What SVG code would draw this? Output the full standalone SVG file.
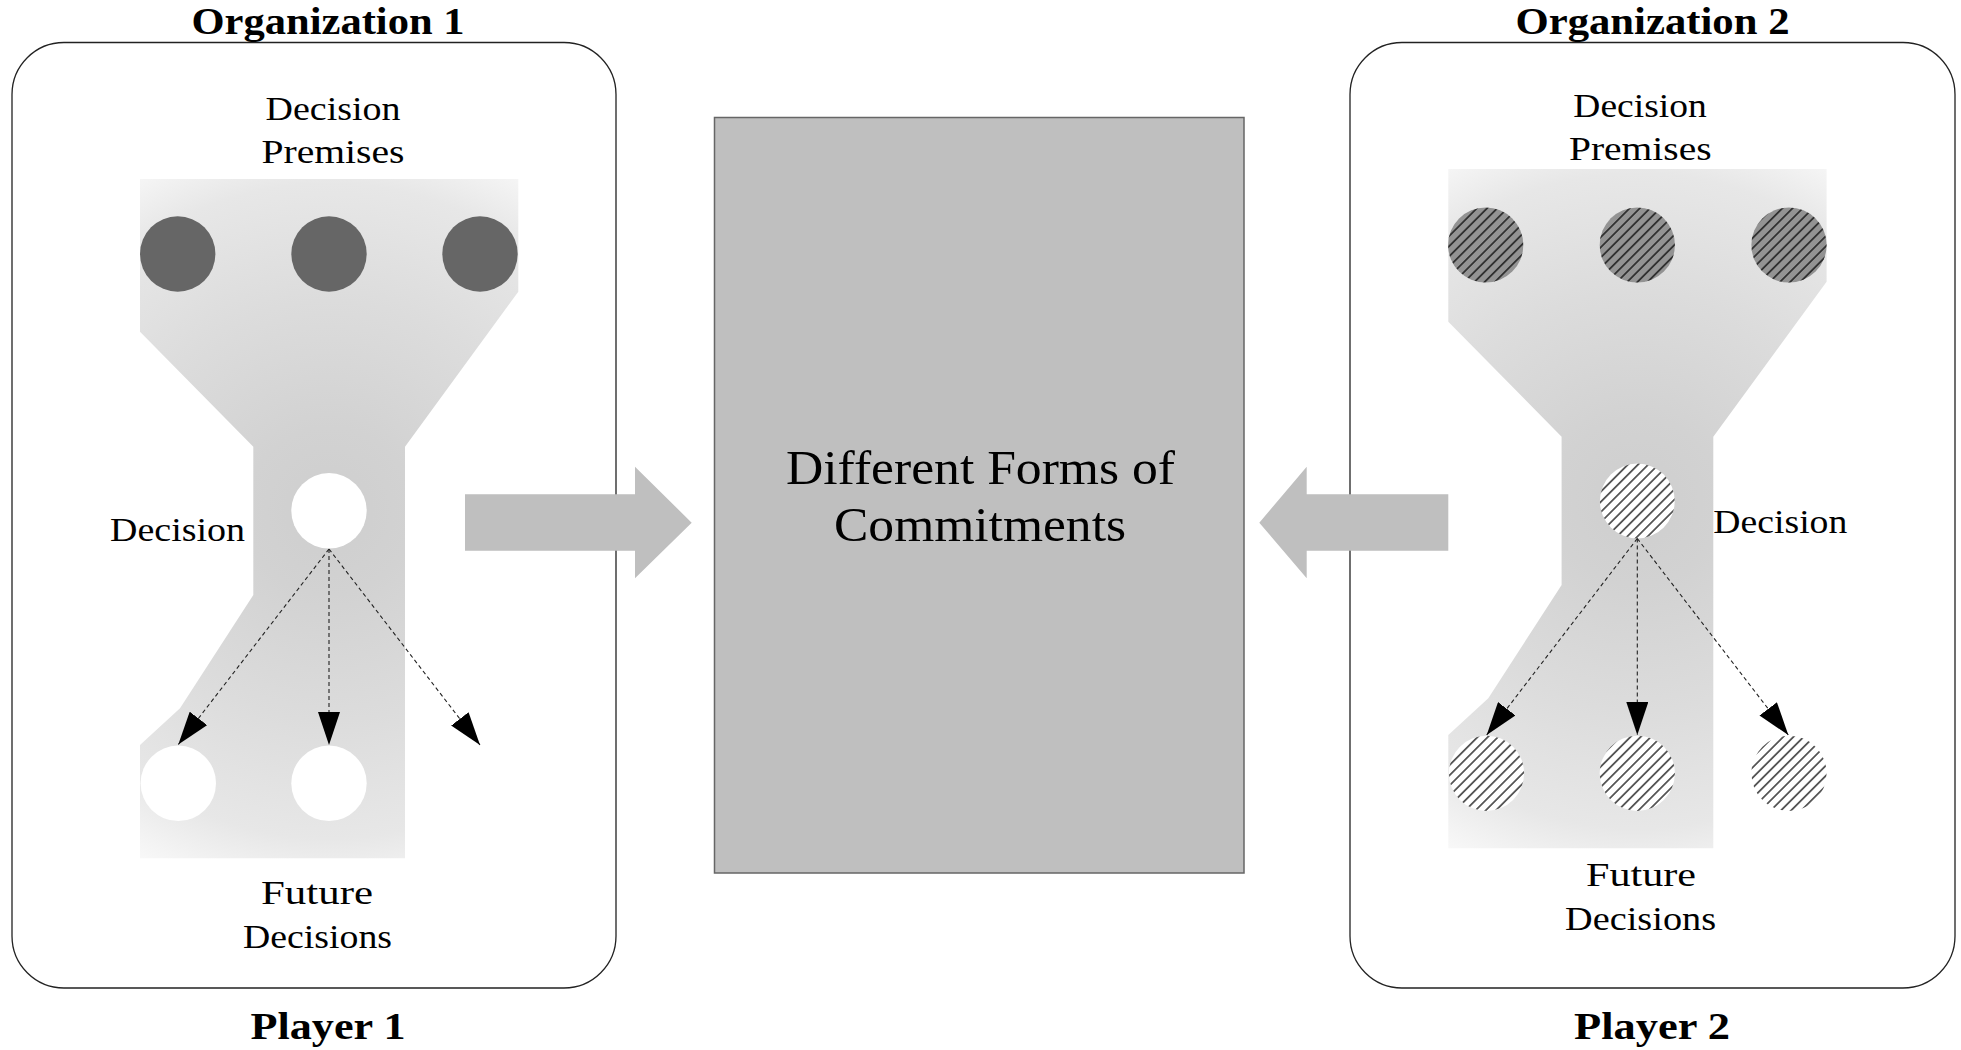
<svg xmlns="http://www.w3.org/2000/svg" width="1961" height="1050" viewBox="0 0 1961 1050">
<style>
.box{fill:none;stroke:#222;stroke-width:1.3}
.t{font-family:"Liberation Serif","Times New Roman",serif;fill:#000;text-anchor:middle}
.title{font-weight:bold;font-size:37px}
.lbl{font-size:34px}
.big{font-size:49px}
.dash{fill:none;stroke:#222;stroke-width:1.1;stroke-dasharray:4 3;marker-end:url(#ah)}
.bigarrow{fill:#bfbfbf}
.p1{fill:#666}
.p2{fill:#939393}
.wh{fill:#fff}
.hatch{fill:url(#hatch)}
.funnel{fill:url(#shade)}
</style>
<defs>
<radialGradient id="shade" gradientUnits="userSpaceOnUse" cx="329" cy="511" r="420">
<stop offset="0" stop-color="#cecece"/>
<stop offset="0.2" stop-color="#d2d2d2"/>
<stop offset="0.5" stop-color="#dcdcdc"/>
<stop offset="0.78" stop-color="#e7e7e7"/>
<stop offset="0.9" stop-color="#f4f4f4"/>
<stop offset="1" stop-color="#fefefe"/>
</radialGradient>
<pattern id="hatch" patternUnits="userSpaceOnUse" width="7.2" height="10" patternTransform="rotate(45)">
<line x1="3.6" y1="0" x2="3.6" y2="10" stroke="#000" stroke-width="1.2"/>
</pattern>
<marker id="ah" markerUnits="userSpaceOnUse" viewBox="0 0 33 22" markerWidth="33" markerHeight="22" refX="33" refY="11" orient="auto">
<path d="M0,0 L33,11 L0,22 Z" fill="#000"/>
</marker>
<polygon id="funnelShape" points="140,179 518.3,179 518.3,291.7 405,446.7 405,858.3 140,858.3 140,745 180,708.3 253.3,595 253.3,446.7 140,331.7"/>
</defs>
<rect width="1961" height="1050" fill="#fff"/>

<g id="organization-1">
<rect class="box" x="12" y="42.5" width="604" height="945.5" rx="52" ry="52"/>
<text class="t title" x="328" y="34" textLength="273" lengthAdjust="spacingAndGlyphs">Organization 1</text>
<text class="t title" x="328" y="1039" textLength="155" lengthAdjust="spacingAndGlyphs">Player 1</text>
<use href="#funnelShape" class="funnel"/>
<text class="t lbl" x="333" y="120" textLength="135" lengthAdjust="spacingAndGlyphs">Decision</text>
<text class="t lbl" x="333" y="163" textLength="143" lengthAdjust="spacingAndGlyphs">Premises</text>
<text class="t lbl" x="177.5" y="541" textLength="135" lengthAdjust="spacingAndGlyphs">Decision</text>
<text class="t lbl" x="317" y="904" textLength="112" lengthAdjust="spacingAndGlyphs">Future</text>
<text class="t lbl" x="317.5" y="947.6" textLength="149" lengthAdjust="spacingAndGlyphs">Decisions</text>
</g>

<g id="premise-1a"><circle class="p1" cx="177.7" cy="254" r="37.7"/></g>
<g id="premise-1b"><circle class="p1" cx="329" cy="254" r="37.7"/></g>
<g id="premise-1c"><circle class="p1" cx="480" cy="254" r="37.7"/></g>
<g id="decision-1"><circle class="wh" cx="329" cy="510.8" r="37.7"/></g>
<g id="future-1a"><circle class="wh" cx="178.3" cy="783.3" r="37.7"/></g>
<g id="future-1b"><circle class="wh" cx="329" cy="783.3" r="37.7"/></g>

<g id="organization-2">
<rect class="box" x="1350" y="42.5" width="605" height="945.5" rx="52" ry="52"/>
<text class="t title" x="1652.5" y="34" textLength="274" lengthAdjust="spacingAndGlyphs">Organization 2</text>
<text class="t title" x="1652" y="1039" textLength="156" lengthAdjust="spacingAndGlyphs">Player 2</text>
<use href="#funnelShape" class="funnel" transform="translate(1308.3,-10)"/>
<text class="t lbl" x="1640" y="116.7" textLength="133.4" lengthAdjust="spacingAndGlyphs">Decision</text>
<text class="t lbl" x="1640.3" y="160" textLength="142.7" lengthAdjust="spacingAndGlyphs">Premises</text>
<text class="t lbl" x="1713.3" y="532.7" textLength="134" lengthAdjust="spacingAndGlyphs" style="text-anchor:start">Decision</text>
<text class="t lbl" x="1641" y="885.7" textLength="110" lengthAdjust="spacingAndGlyphs">Future</text>
<text class="t lbl" x="1640.6" y="929.7" textLength="151" lengthAdjust="spacingAndGlyphs">Decisions</text>
</g>

<g id="premise-2a"><circle class="p2" cx="1485.7" cy="245" r="37.6"/><circle class="hatch" cx="1485.7" cy="245" r="37.6"/></g>
<g id="premise-2b"><circle class="p2" cx="1637.3" cy="245" r="37.6"/><circle class="hatch" cx="1637.3" cy="245" r="37.6"/></g>
<g id="premise-2c"><circle class="p2" cx="1789" cy="245" r="37.6"/><circle class="hatch" cx="1789" cy="245" r="37.6"/></g>
<g id="decision-2"><circle class="wh" cx="1637.3" cy="501" r="37.4"/><circle class="hatch" cx="1637.3" cy="501" r="37.4"/></g>
<g id="future-2a"><circle class="wh" cx="1486.5" cy="773.3" r="37.6"/><circle class="hatch" cx="1486.5" cy="773.3" r="37.6"/></g>
<g id="future-2b"><circle class="wh" cx="1637.3" cy="773.3" r="37.6"/><circle class="hatch" cx="1637.3" cy="773.3" r="37.6"/></g>
<g id="future-2c"><circle class="wh" cx="1789" cy="773.3" r="37.6"/><circle class="hatch" cx="1789" cy="773.3" r="37.6"/></g>

<g id="commitments">
<rect x="714.5" y="117.5" width="529.5" height="755.5" fill="#bfbfbf" stroke="#666" stroke-width="1.5"/>
<text class="t big" x="980.5" y="484" textLength="389" lengthAdjust="spacingAndGlyphs">Different Forms of</text>
<text class="t big" x="980" y="540.7" textLength="292" lengthAdjust="spacingAndGlyphs">Commitments</text>
</g>

<g id="connectors">
<polygon class="bigarrow" points="465,494.3 635,494.3 635,466.7 691.7,522.7 635,578.3 635,550.7 465,550.7"/>
<polygon class="bigarrow" points="1448.3,494.3 1306.7,494.3 1306.7,466.7 1259.3,522.7 1306.7,578.3 1306.7,550.7 1448.3,550.7"/>
<line class="dash" x1="329" y1="549" x2="178.3" y2="744.5"/>
<line class="dash" x1="329" y1="549" x2="329" y2="745"/>
<line class="dash" x1="329" y1="549" x2="480" y2="745"/>
<line class="dash" x1="1637.3" y1="538.5" x2="1486.7" y2="735"/>
<line class="dash" x1="1637.3" y1="538.5" x2="1637.3" y2="735"/>
<line class="dash" x1="1637.3" y1="538.5" x2="1788.3" y2="735"/>
</g>
</svg>
